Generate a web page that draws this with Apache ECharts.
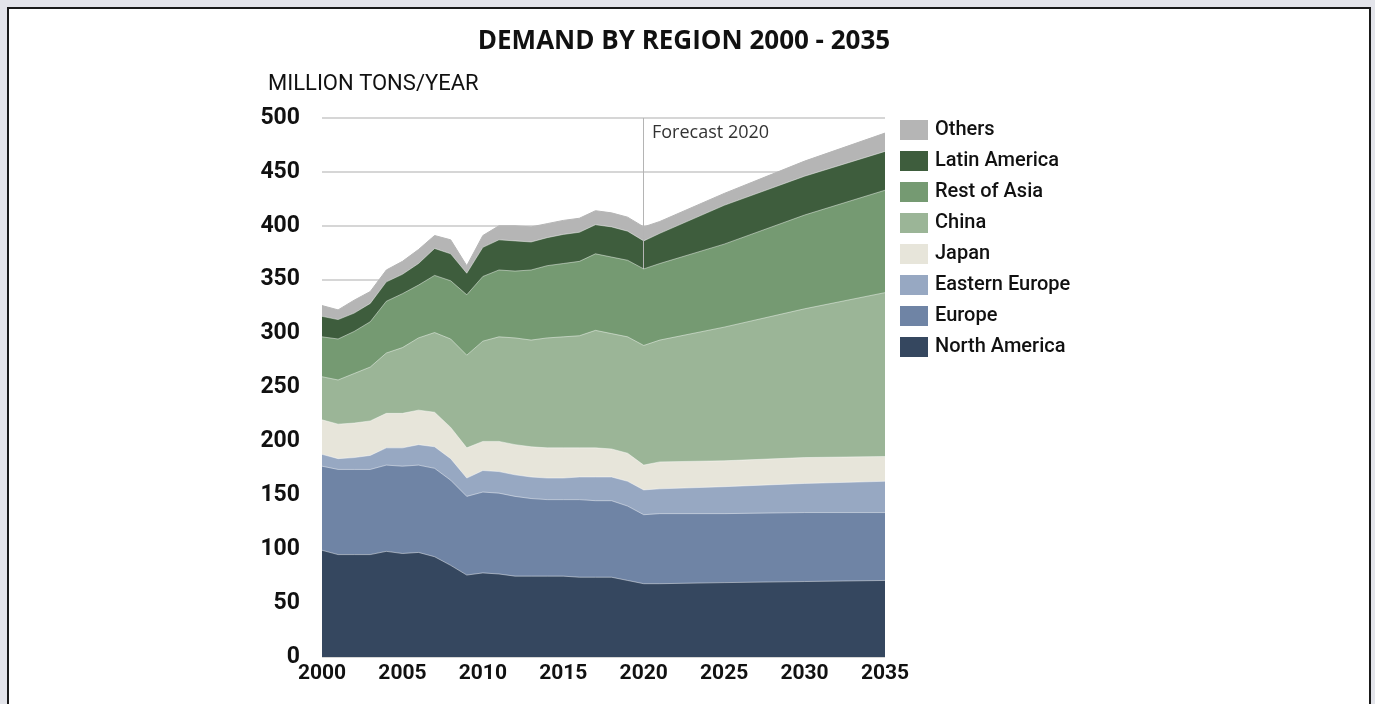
<!DOCTYPE html>
<html><head><meta charset="utf-8">
<script src="https://cdn.jsdelivr.net/npm/echarts@6/dist/echarts.min.js"></script>
<style>
html,body{margin:0;padding:0;background:#e3e4ea;width:1375px;height:704px;overflow:hidden;}
#frame{position:absolute;left:7px;top:7px;width:1360px;height:720px;border:2px solid #1a1a1a;background:#fff;}
#chart{position:absolute;left:0;top:0;width:1375px;height:704px;}
</style></head><body>
<div id="frame"></div><div id="chart"></div>
<script>
const years = [2000,2001,2002,2003,2004,2005,2006,2007,2008,2009,2010,2011,2012,2013,2014,2015,2016,2017,2018,2019,2020,2021,2025,2030,2035];
const northAmerica  = [99,95,95,95,98,96,97,93,85,76,78,77,75,75,75,75,74,74,74,71,68,68,69,70,71];
const europe        = [78,79,79,79,80,81,81,82,79,73,75,75,74,72,71,71,72,71,71,69,64,65,64,64,63];
const easternEurope = [11,10,11,13,16,17,19,20,20,17,20,20,20,20,20,20,21,22,22,23,23,23,25,27,29];
const japan         = [32,32,32,32,32,32,32,32,29,28,27,28,28,28,28,28,27,27,26,26,23,25,24,24,23];
const china         = [40,41,46,50,56,61,67,74,82,86,93,97,99,99,102,103,104,109,107,108,111,113,124,138,152];
const restOfAsia    = [37,38,39,42,48,50,49,53,54,56,60,62,62,65,67,68,69,71,71,71,71,71,77,87,95];
const latinAmerica  = [19,18,17,17,18,18,20,25,25,20,27,28,28,26,26,27,27,27,28,27,26,28,36,36,36];
const others        = [10,9,12,11,11,12,13,12,13,7,11,13,14,14,13,13,13,13,13,13,13,11,11,14,17];

const seriesNames = ['North America','Europe','Eastern Europe','Japan','China','Rest of Asia','Latin America','Others'];
const seriesValues = [northAmerica, europe, easternEurope, japan, china, restOfAsia, latinAmerica, others];
const seriesColors = ['#35475f','#6f84a5','#97a8c2','#e7e5da','#9bb597','#759a72','#3e5d3d','#b5b5b5'];
const forecastYear = 2020;
const forecastLabel = 'Forecast 2020';

// cumulative (stacked) tops, bottom layer first
const cumulative = [];
seriesValues.forEach((vals, i) => {
  cumulative.push(vals.map((v, j) => v + (i > 0 ? cumulative[i - 1][j] : 0)));
});

const chart = echarts.init(document.getElementById('chart'));
const series = [];
for (let i = seriesNames.length - 1; i >= 0; i--) {
  const s = {
    name: seriesNames[i],
    type: 'line',
    data: years.map((y, j) => [y, cumulative[i][j]]),
    symbol: 'none',
    z: 2 + (seriesNames.length - i),
    itemStyle: { color: seriesColors[i] },
    lineStyle: { width: 1, color: i === seriesNames.length - 1 ? seriesColors[i] : 'rgba(255,255,255,0.45)' },
    areaStyle: { color: seriesColors[i], opacity: 1, origin: 'start' },
    emphasis: { disabled: true }
  };
  if (i === 0) {
    s.markLine = {
      silent: true, symbol: 'none',
      label: { show: false },
      lineStyle: { color: '#b4b4b4', width: 1, type: 'solid' },
      data: [{ xAxis: forecastYear }]
    };
  }
  series.push(s);
}

chart.setOption({
  animation: false,
  backgroundColor: 'transparent',
  title: {
    text: 'DEMAND BY REGION 2000 - 2035',
    left: 679, top: 24, textAlign: 'center',
    textStyle: { fontFamily: 'Open Sans', fontWeight: 'bold', fontSize: 26, color: '#111' }
  },
  graphic: [
    { type: 'text', left: 268, top: 73, style: { text: 'MILLION TONS/YEAR', fontFamily: 'Roboto', fontSize: 22, fill: '#111' } },
    { type: 'text', left: 652, top: 124, z: 100, style: { text: forecastLabel, fontFamily: 'Open Sans', fontSize: 18, fill: '#333' } }
  ],
  legend: {
    orient: 'vertical', left: 895, top: 115,
    data: seriesNames.slice().reverse(),
    icon: 'rect', itemWidth: 28, itemHeight: 20, itemGap: 11,
    itemStyle: { borderWidth: 0 },
    textStyle: { fontFamily: 'Roboto', fontSize: 20, fontWeight: 500, color: '#111', padding: [0,0,0,2] }
  },
  grid: { left: 322, right: 490, top: 118, bottom: 47 },
  xAxis: {
    type: 'value', min: 2000, max: 2035, interval: 5,
    axisLine: { show: false }, axisTick: { show: false }, splitLine: { show: false },
    axisLabel: { fontFamily: 'Roboto', fontSize: 21, fontWeight: 'bold', color: '#111', margin: 6, formatter: v => String(v) }
  },
  yAxis: {
    type: 'value', min: 0, max: 500, interval: 50,
    axisLine: { show: false }, axisTick: { show: false },
    splitLine: { show: true, lineStyle: { color: '#d6d6d6', width: 2 } },
    axisLabel: { fontFamily: 'Roboto', fontSize: 23, fontWeight: 'bold', color: '#111', margin: 22 }
  },
  series: series
});
</script>
</body></html>
